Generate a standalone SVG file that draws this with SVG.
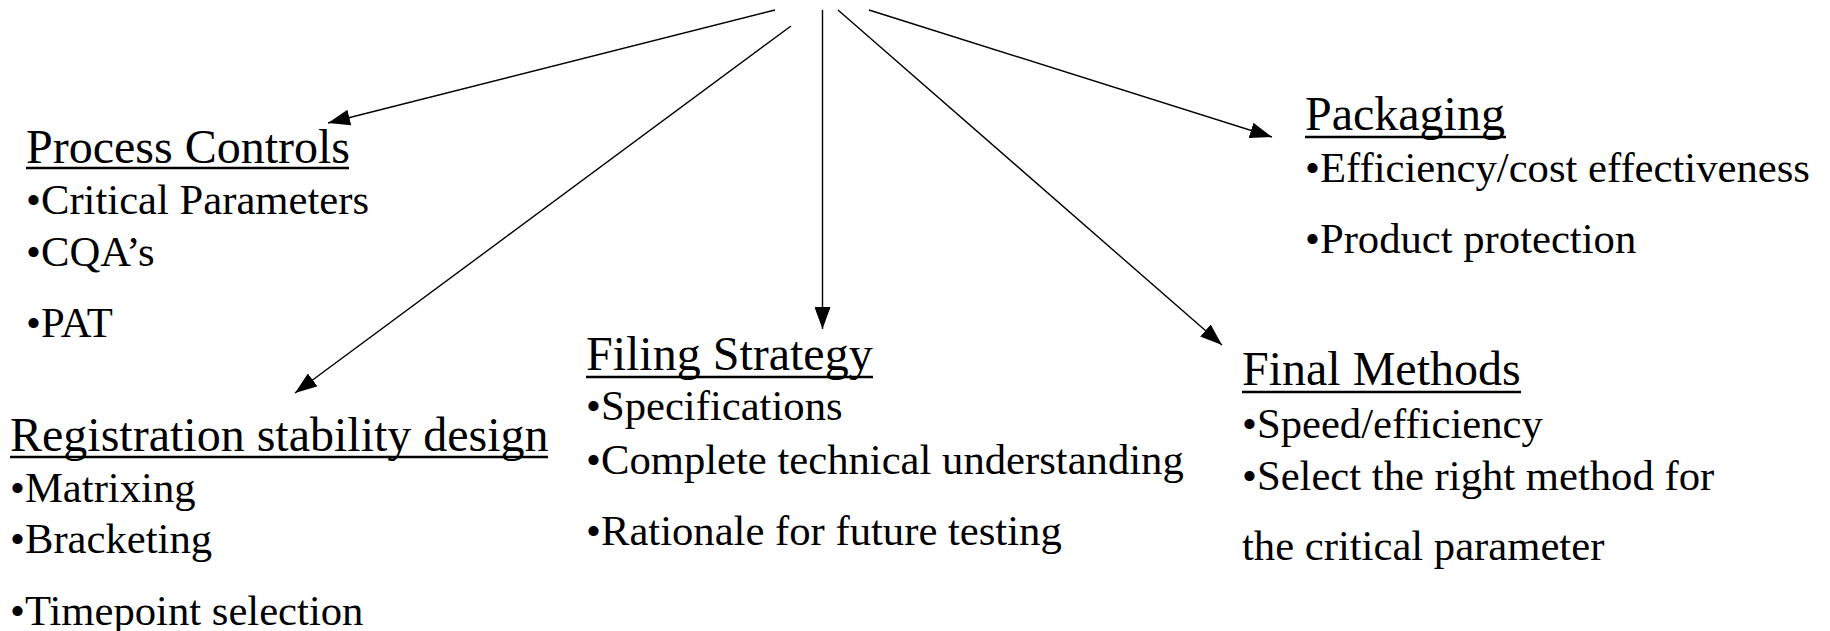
<svg xmlns="http://www.w3.org/2000/svg" width="1830" height="631" viewBox="0 0 1830 631">
<defs>
<style>
text{font-family:"Liberation Serif","Times New Roman",serif;fill:#000}
.h{font-size:48px}
.i{font-size:42.67px}
.u{stroke:#000;stroke-width:2.6}
.c{stroke:#000;stroke-width:1.4;fill:none}
</style>
<marker id="ah" markerUnits="userSpaceOnUse" markerWidth="24" markerHeight="16" viewBox="0 0 24 16" refX="22" refY="8" orient="auto">
<path d="M0,0 L22,8 L0,16 Z" fill="#000"/>
</marker>
</defs>
<rect width="1830" height="631" fill="#fff"/>
<g id="connectors">
<line class="c" x1="775" y1="10" x2="328" y2="123" marker-end="url(#ah)"/>
<line class="c" x1="791" y1="26" x2="295" y2="393" marker-end="url(#ah)"/>
<line class="c" x1="822.5" y1="10" x2="822.5" y2="329" marker-end="url(#ah)"/>
<line class="c" x1="838" y1="10" x2="1222" y2="345" marker-end="url(#ah)"/>
<line class="c" x1="869" y1="10" x2="1272" y2="137" marker-end="url(#ah)"/>
</g>
<g id="process-controls">
<text class="h" x="26" y="163">Process Controls</text>
<line class="u" x1="26" y1="168" x2="349" y2="168"/>
<text class="i" x="26" y="214">•Critical Parameters</text>
<text class="i" x="26" y="266">•CQA’s</text>
<text class="i" x="26" y="337">•PAT</text>
</g>
<g id="registration">
<text class="h" x="10" y="451">Registration stability design</text>
<line class="u" x1="10" y1="457" x2="548" y2="457"/>
<text class="i" x="10" y="502">•Matrixing</text>
<text class="i" x="10" y="553">•Bracketing</text>
<text class="i" x="10" y="625">•Timepoint selection</text>
</g>
<g id="filing-strategy">
<text class="h" x="586" y="370">Filing Strategy</text>
<line class="u" x1="586" y1="377" x2="873" y2="377"/>
<text class="i" x="586" y="420">•Specifications</text>
<text class="i" x="586" y="474">•Complete technical understanding</text>
<text class="i" x="586" y="545">•Rationale for future testing</text>
</g>
<g id="final-methods">
<text class="h" x="1242" y="385">Final Methods</text>
<line class="u" x1="1242" y1="392" x2="1521" y2="392"/>
<text class="i" x="1242" y="438">•Speed/efficiency</text>
<text class="i" x="1242" y="490">•Select the right method for</text>
<text class="i" x="1242" y="560">the critical parameter</text>
</g>
<g id="packaging">
<text class="h" x="1305" y="130">Packaging</text>
<line class="u" x1="1305" y1="137" x2="1506" y2="137"/>
<text class="i" x="1305" y="182">•Efficiency/cost effectiveness</text>
<text class="i" x="1305" y="253">•Product protection</text>
</g>
</svg>
